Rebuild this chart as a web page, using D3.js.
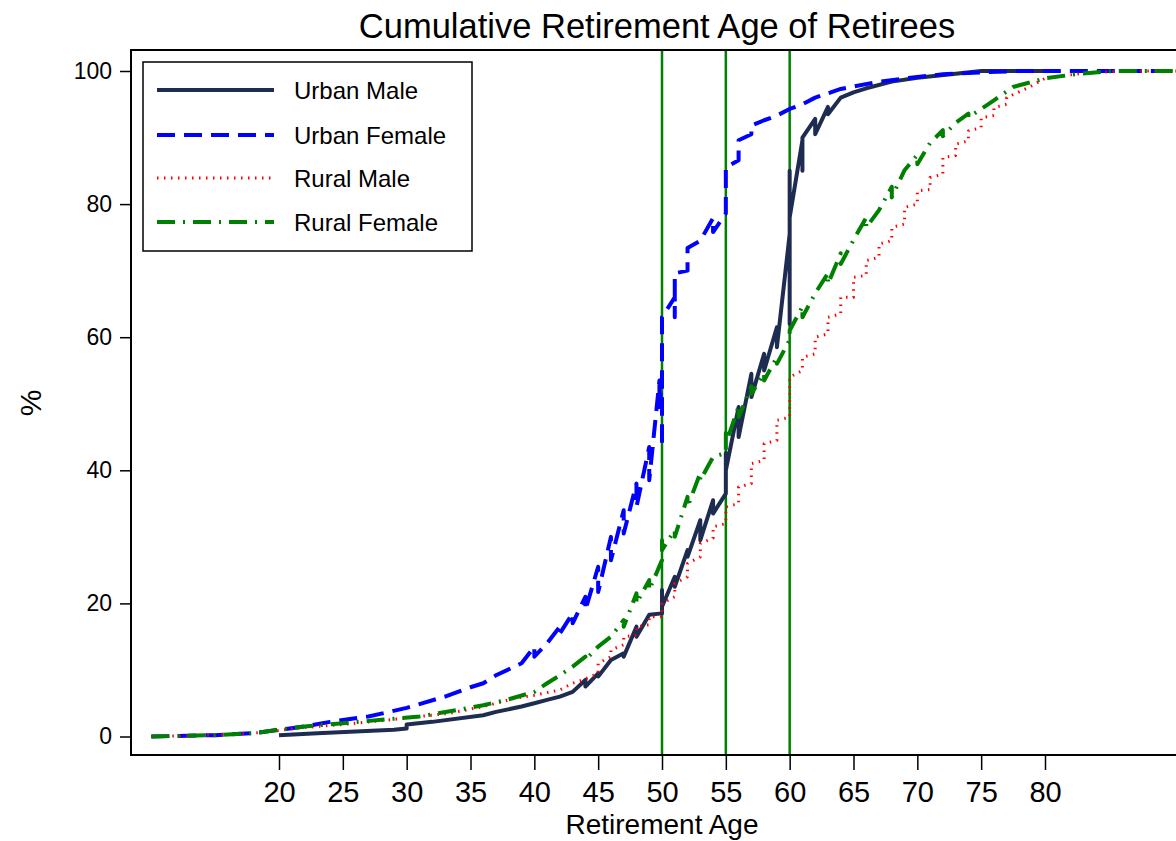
<!DOCTYPE html>
<html>
<head>
  <meta charset="utf-8">
  <title>Cumulative Retirement Age of Retirees</title>
  <style>
    body { margin: 0; background: #fff; }
    svg { display: block; font-family: "Liberation Sans", Arial, sans-serif; }
  </style>
</head>
<body>
  <div class="chart-container"></div>
  <script src="https://cdn.jsdelivr.net/npm/d3@7"></script>
  <script>
    // tick values
    var xTicks = [20, 25, 30, 35, 40, 45, 50, 55, 60, 65, 70, 75, 80];
    var yTicks = [0, 20, 40, 60, 80, 100];
    var refAges = [50, 55, 60];

    // series: [age, cumulative %] vertices
    var urbanMale = [
      [20, 0.2], [23, 0.5], [29, 1.0], [30, 1.2], [30, 1.8], [32, 2.2], [36, 3.2], [37, 3.7],
      [39, 4.5], [40, 5.0], [41, 5.5], [42, 6.0], [43, 6.7], [44, 8.5], [44, 7.5], [45, 9.5],
      [45, 9], [46, 11.5], [47, 12.5], [47, 12], [48, 16.5], [48, 15], [49, 18.3], [50, 18.5],
      [50, 22], [50, 19.5], [51, 24], [51, 22.5], [52, 28], [52, 27], [53, 32.5], [53, 29.5],
      [54, 35.5], [54, 33.5], [55, 36.5], [55, 42.6], [55, 40], [56, 49.5], [56, 45], [57, 54.5],
      [57, 51], [58, 57.5], [58, 55], [59, 61.5], [59, 58.5], [60, 75.5], [60, 62], [60, 85],
      [60, 78], [61, 89.6], [61, 85], [61, 90], [62, 92.8], [62, 90.5], [63, 94.6], [63, 93.5],
      [64, 96], [65, 96.8], [66, 97.4], [68, 98.4], [70, 99], [73, 99.6], [75, 100], [80, 100]
    ];

    var urbanFemale = [
      [10, 0], [15, 0.2], [18, 0.5], [20, 1], [22, 1.5], [24, 2.2], [27, 3], [30, 4.3], [33, 6],
      [35, 7.4], [36, 8], [37, 9.2], [39, 11], [40, 13.5], [40, 12], [41, 14], [42, 16.5],
      [42, 15.5], [43, 18.5], [43, 17], [44, 21], [44, 19], [45, 25.5], [45, 21.7], [46, 30],
      [46, 26.5], [47, 34], [47, 30.5], [48, 38], [48, 34.5], [49, 43.5], [49, 38.5],
      [49.8, 53.5], [49.8, 49.5], [50, 54], [50, 43.5], [50, 63], [51, 66], [51, 63], [51, 69.6],
      [52, 70], [52, 73.4], [53, 74.5], [54, 77.9], [54, 75.8], [55, 78.6], [55, 85.5],
      [56, 86.6], [56, 89.6], [57, 90.5], [57, 91.8], [58, 92.6], [59, 93.3], [60, 94.3],
      [61, 95], [62, 96], [64, 97.3], [67, 98.4], [70, 99.1], [72, 99.5], [75, 99.8], [78, 100],
      [92, 100]
    ];

    var ruralMale = [
      [10, 0], [15, 0.2], [18, 0.5], [20, 0.9], [21.6, 1.3], [25, 1.8], [28.7, 2.5], [31, 3],
      [33.4, 3.5], [36, 4.5], [38.6, 5.8], [40, 6.2], [42, 7], [43, 8], [43.8, 8.5],
      [45, 9.5], [45, 11], [46, 12], [46, 13], [47, 13.8], [47, 15], [48, 15.2], [48, 16.5],
      [49, 16.8], [49, 18], [50, 18], [50, 20], [51, 21], [51, 23], [52, 24], [52, 26],
      [53, 27], [53, 29], [54, 29.8], [54, 31.5], [55, 32], [55, 34.5], [56, 35], [56, 37.5],
      [57, 38], [57, 41], [58, 41.5], [58, 44], [59, 44.5], [59, 47.5], [60, 48], [60, 54],
      [61, 55], [61, 57], [62, 57.5], [62, 60], [63, 60.5], [63, 63], [64, 63.5], [64, 66],
      [65, 66], [65, 69], [66, 69.3], [66, 71.5], [67, 72], [67, 74], [68, 74.5], [68, 76.5],
      [69, 77], [69, 79.5], [70, 80], [70, 82], [71, 82.2], [71, 84], [72, 84.5], [72, 87],
      [73, 87.3], [73, 89], [74, 89.5], [74, 91], [75, 91.5], [75, 93], [76, 93.3], [76, 94.5],
      [77, 95], [77, 96], [78.8, 97.6], [80, 98.9], [82.7, 99.6], [86, 100], [92, 100]
    ];

    var ruralFemale = [
      [10, 0], [15, 0.2], [18, 0.5], [20, 1], [22, 1.5], [25, 2], [28, 2.5], [31, 3], [34, 4],
      [36, 4.7], [38, 5.6], [40, 6.7], [41, 8], [42, 9.2], [43, 10.5], [44, 12], [44, 11.5],
      [45, 13.5], [46, 15], [47, 17.5], [47, 16.5], [48, 21.5], [48, 20], [49, 23.5], [49, 22],
      [50, 26.5], [50, 29.5], [50, 28], [51, 31], [51, 30], [52, 36], [52, 34.5], [53, 39.6],
      [53, 38.5], [54, 42], [55, 42.6], [55, 45.6], [55, 44], [56, 49.6], [56, 48], [57, 52.6],
      [57, 51.5], [58, 54.6], [58, 53.5], [59, 57], [59, 56], [60, 59.6], [60, 61], [61, 64.6],
      [61, 63], [62, 66.6], [63, 69.6], [63, 68], [64, 72.6], [64, 71], [65, 74.6], [66, 78],
      [66, 76.5], [67, 79.1], [68, 82.6], [68, 81], [69, 85.1], [70, 87.4], [70, 86], [71, 89.2],
      [72, 91.1], [72, 90.2], [73, 92.2], [74, 93.6], [74, 93], [76, 95.6], [77.5, 97.6],
      [80, 98.9], [82.7, 99.6], [85.3, 100], [92, 100]
    ];

    var seriesNames = ['Urban Male', 'Urban Female', 'Rural Male', 'Rural Female'];
    var seriesData = [urbanMale, urbanFemale, ruralMale, ruralFemale];
    var seriesStyle = [
      { color: '#1e2c52', width: 4, dash: null },
      { color: '#0000ff', width: 4, dash: '18,9' },
      { color: '#ff0000', width: 3, dash: '1.5,5.5' },
      { color: '#008000', width: 4, dash: '18,8,2,8' }
    ];

    var width = 1176, height = 841;
    var plot = { left: 131, top: 50, right: 1200, bottom: 755 };

    var x = d3.scaleLinear().domain([20, 80]).range([279, 1045]);
    var y = d3.scaleLinear().domain([0, 100]).range([736.5, 71]);

    var svg = d3.select('.chart-container').append('svg')
      .attr('width', width)
      .attr('height', height);

    svg.append('defs').append('clipPath')
      .attr('id', 'plot-clip')
      .append('rect')
      .attr('x', plot.left)
      .attr('y', plot.top)
      .attr('width', plot.right - plot.left)
      .attr('height', plot.bottom - plot.top);

    var gPlot = svg.append('g').attr('clip-path', 'url(#plot-clip)');

    // reference lines at 50, 55, 60
    gPlot.selectAll('.ref-line')
      .data(refAges)
      .enter().append('line')
      .attr('class', 'ref-line')
      .attr('x1', function (d) { return x(d); })
      .attr('x2', function (d) { return x(d); })
      .attr('y1', plot.top)
      .attr('y2', plot.bottom)
      .style('stroke', '#008000')
      .style('stroke-width', 2.5);

    var line = d3.line()
      .x(function (d) { return x(d[0]); })
      .y(function (d) { return y(d[1]); });

    gPlot.selectAll('.series')
      .data(seriesData)
      .enter().append('path')
      .attr('class', 'series')
      .attr('d', line)
      .style('fill', 'none')
      .style('stroke', function (d, i) { return seriesStyle[i].color; })
      .style('stroke-width', function (d, i) { return seriesStyle[i].width; })
      .style('stroke-dasharray', function (d, i) { return seriesStyle[i].dash; })
      .style('stroke-linejoin', 'round');

    // frame of the plot region
    svg.append('rect')
      .attr('x', plot.left)
      .attr('y', plot.top)
      .attr('width', plot.right - plot.left)
      .attr('height', plot.bottom - plot.top)
      .style('fill', 'none')
      .style('stroke', '#000')
      .style('stroke-width', 2);

    // axes
    var xAxis = d3.axisBottom(x).tickValues(xTicks).tickSize(14).tickPadding(11);
    var gx = svg.append('g')
      .attr('transform', 'translate(0,' + (plot.bottom + 1) + ')')
      .call(xAxis);
    gx.select('.domain').remove();
    gx.selectAll('line').style('stroke', '#000').style('stroke-width', 1.5);
    gx.selectAll('text')
      .style('font-size', '29px')
      .style('fill', '#000')
      .style('font-family', '"Liberation Sans", Arial, sans-serif');

    var yAxis = d3.axisLeft(y).tickValues(yTicks).tickSize(11).tickPadding(8);
    var gy = svg.append('g')
      .attr('transform', 'translate(' + plot.left + ',0)')
      .call(yAxis);
    gy.select('.domain').remove();
    gy.selectAll('line').style('stroke', '#000').style('stroke-width', 1.5);
    gy.selectAll('text')
      .style('font-size', '23px')
      .style('fill', '#000')
      .style('font-family', '"Liberation Sans", Arial, sans-serif');

    // titles
    svg.append('text')
      .attr('x', 657)
      .attr('y', 37.5)
      .attr('text-anchor', 'middle')
      .style('font-size', '34.5px')
      .text('Cumulative Retirement Age of Retirees');

    svg.append('text')
      .attr('x', 662)
      .attr('y', 834)
      .attr('text-anchor', 'middle')
      .style('font-size', '28px')
      .text('Retirement Age');

    svg.append('text')
      .attr('transform', 'translate(41,403) rotate(-90)')
      .attr('text-anchor', 'middle')
      .style('font-size', '30px')
      .text('%');

    // legend
    var legend = svg.append('g').attr('class', 'legend');
    legend.append('rect')
      .attr('x', 143)
      .attr('y', 62)
      .attr('width', 329)
      .attr('height', 189)
      .style('fill', '#fff')
      .style('stroke', '#000')
      .style('stroke-width', 1.5);

    var legendRowY = [90, 135, 178, 222];
    var rows = legend.selectAll('.legend-row')
      .data(seriesNames)
      .enter().append('g')
      .attr('class', 'legend-row')
      .attr('transform', function (d, i) { return 'translate(0,' + legendRowY[i] + ')'; });

    rows.append('line')
      .attr('x1', 157)
      .attr('x2', 274)
      .style('stroke', function (d, i) { return seriesStyle[i].color; })
      .style('stroke-width', function (d, i) { return seriesStyle[i].width; })
      .style('stroke-dasharray', function (d, i) { return seriesStyle[i].dash; });

    rows.append('text')
      .attr('x', 294)
      .attr('y', 9)
      .style('font-size', '24px')
      .text(function (d) { return d; });
  </script>
</body>
</html>
